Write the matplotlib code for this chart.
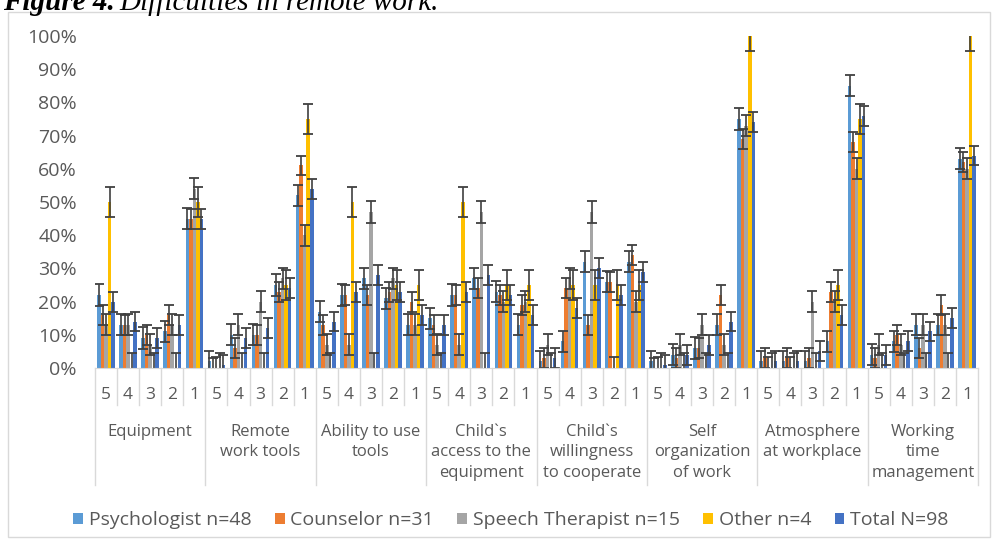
import numpy as np
import matplotlib.pyplot as plt
from matplotlib.patches import Rectangle

categories = ["Equipment", "Remote\nwork tools", "Ability to use\ntools",
              "Child`s\naccess to the\nequipment", "Child`s\nwillingness\nto cooperate",
              "Self\norganization\nof work", "Atmosphere\nat workplace",
              "Working\ntime\nmanagement"]
ratings = ["5", "4", "3", "2", "1"]
series_names = ["Psychologist n=48", "Counselor n=31", "Speech Therapist n=15",
                "Other n=4", "Total N=98"]

# percent per category, ratings 5..1
psych = [22, 13, 9, 11, 45,
         2, 10, 10, 25, 52,
         17, 22, 27, 21, 13,
         15, 22, 27, 23, 13,
         2, 8, 32, 26, 32,
         2, 4, 6, 13, 75,
         2, 2, 2, 8, 85,
         4, 8, 13, 13, 63]
counselor = [16, 13, 10, 16, 45,
             0, 6, 10, 23, 61,
             13, 22, 22, 23, 20,
             13, 22, 24, 22, 19,
             3, 24, 13, 26, 34,
             0, 3, 6, 22, 69,
             3, 3, 3, 23, 68,
             3, 10, 6, 19, 62]
speech = [13, 13, 7, 13, 54,
          0, 13, 20, 27, 40,
          7, 7, 47, 27, 13,
          7, 7, 47, 20, 20,
          7, 27, 47, 0, 20,
          0, 7, 13, 7, 73,
          0, 0, 20, 20, 60,
          7, 7, 13, 13, 60]
other = [50, 0, 0, 0, 50,
         0, 0, 0, 25, 75,
         0, 50, 0, 25, 25,
         0, 50, 0, 25, 25,
         0, 25, 25, 25, 25,
         0, 0, 0, 0, 100,
         0, 0, 0, 25, 75,
         0, 0, 0, 0, 100]
total = [20, 14, 9, 13, 45,
         1, 9, 12, 24, 54,
         14, 23, 28, 23, 16,
         13, 23, 28, 22, 16,
         3, 18, 30, 22, 29,
         1, 4, 7, 14, 74,
         2, 2, 5, 16, 76,
         4, 8, 11, 15, 64]
errors = [3.2, 3.0, 3.2, 4.5, 3.0]

colors = ["#5B9BD5", "#ED7D31", "#A5A5A5", "#FFC000", "#4472C4"]
txt = "#595959"
line_c = "#D9D9D9"

plt.rcParams['font.family'] = ['Open Sans', 'DejaVu Sans']

W, H = 993, 545
fig = plt.figure(figsize=(W / 100, H / 100), dpi=100)
ax = fig.add_axes([95 / W, 1 - 368 / H, (978 - 95) / W, 332 / H])

n = len(categories) * len(ratings)
x = np.arange(n) + 0.5
w = 0.16
data = [psych, counselor, speech, other, total]
for k in range(5):
    ax.bar(x + (k - 2) * w, data[k], w, color=colors[k], label=series_names[k],
           yerr=errors[k],
           error_kw=dict(ecolor="#404040", elinewidth=1.2, capsize=3.5, capthick=1.3))

ax.set_xlim(0, n)
ax.set_ylim(0, 100)
ax.set_yticks(range(0, 101, 10))
ax.set_yticklabels([f"{v}%" for v in range(0, 101, 10)], color=txt, fontsize=14)
ax.tick_params(axis='y', length=0, pad=13)
ax.set_xticks([])
for s in ["top", "right", "left"]:
    ax.spines[s].set_visible(False)
ax.spines["bottom"].set_color(line_c)

tr = ax.get_xaxis_transform()
for j in range(n + 1):
    y_end = -0.352 if j % 5 == 0 else -0.111
    ax.plot([j, j], [0, y_end], color=line_c, lw=1, transform=tr, clip_on=False)
for i in range(n):
    ax.text(x[i], -0.081, ratings[i % 5], transform=tr, ha='center', va='center',
            color=txt, fontsize=12.5)
for c, lab in enumerate(categories):
    ax.text(c * 5 + 2.5, -0.168, lab, transform=tr, ha='center', va='top',
            color=txt, fontsize=12, linespacing=1.37)

fig.legend(loc='center', bbox_to_anchor=(511 / W, 1 - 520 / H), ncol=5, frameon=False,
           fontsize=14, labelcolor=txt, handlelength=0.5, handleheight=0.5,
           handletextpad=0.3, columnspacing=1.2)

fig.patches.append(Rectangle((8 / W, 1 - 537 / H), (990 - 8) / W, (537 - 12) / H,
                             transform=fig.transFigure, fill=False,
                             edgecolor=line_c, lw=1))

t1 = fig.text(3 / W, 1 - 10 / H, "Figure 4.", fontsize=21, fontweight='bold',
              fontstyle='italic', family='Liberation Serif', va='baseline')
r = fig.canvas.get_renderer()
bb = t1.get_window_extent(r)
fig.text(bb.x1 / W + 5 / W, 1 - 10 / H, "Difficulties in remote work.", fontsize=21,
         fontstyle='italic', family='Liberation Serif', va='baseline')

fig.savefig("out.png", dpi=100)
